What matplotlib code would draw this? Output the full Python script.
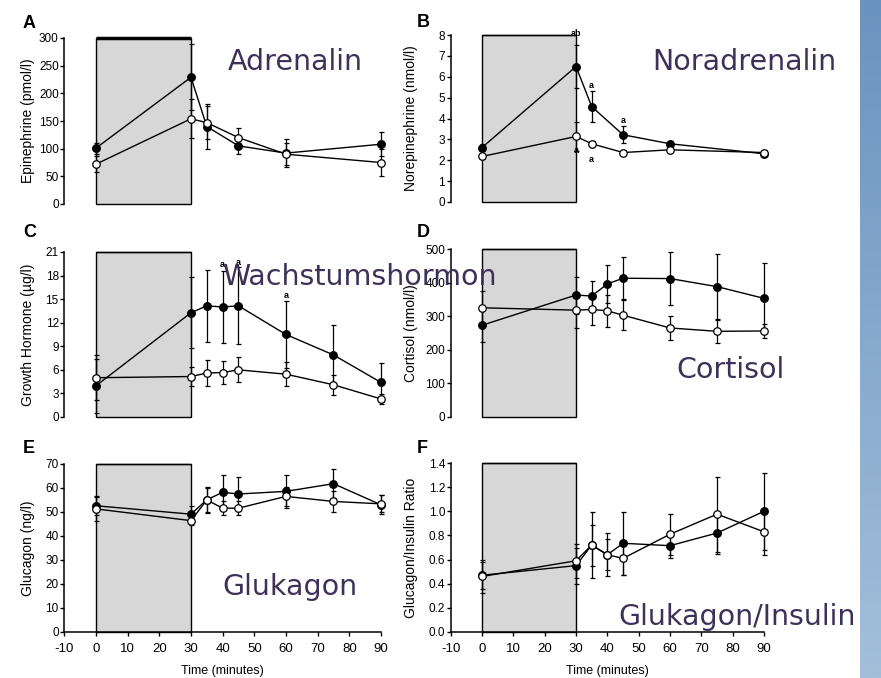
import numpy as np
import matplotlib.pyplot as plt
from matplotlib.patches import Rectangle
from matplotlib.colors import LinearSegmentedColormap

W, H = 881, 678

# ---- data (filled = black circles, open = white circles)
t_ad = [0, 30, 35, 45, 60, 90]
ad_fill = [101, 229, 140, 105, 92, 108]
ad_fill_err = [10, 60, 40, 15, 25, 22]
ad_open = [72, 154, 147, 120, 90, 75]
ad_open_err = [15, 35, 30, 18, 20, 24]

t_nor = [0, 30, 35, 45, 60, 90]
nor_fill = [2.61, 6.49, 4.57, 3.22, 2.79, 2.31]
nor_fill_err = [0.15, 1.05, 0.75, 0.4, 0.12, 0.12]
nor_open = [2.18, 3.14, 2.79, 2.37, 2.5, 2.37]
nor_open_err = [0.12, 0.7, 0.15, 0.1, 0.1, 0.1]

t_gh = [0, 30, 35, 40, 45, 60, 75, 90]
gh_fill = [3.97, 13.27, 14.15, 14.0, 14.15, 10.5, 7.9, 4.4]
gh_fill_err = [3.4, 4.5, 4.6, 4.6, 4.9, 4.3, 3.8, 2.5]
gh_open = [5.0, 5.15, 5.6, 5.66, 6.0, 5.45, 4.1, 2.3]
gh_open_err = [2.9, 1.2, 1.6, 1.5, 1.6, 1.5, 1.3, 0.6]

t_cort = [0, 30, 35, 40, 45, 60, 75, 90]
cort_fill = [273, 363, 360, 396, 413, 412, 388, 353]
cort_fill_err = [50, 55, 45, 56, 62, 78, 97, 104]
cort_open = [325, 318, 320, 316, 303, 265, 255, 256]
cort_open_err = [50, 52, 45, 48, 45, 37, 35, 22]

t_glu = [0, 30, 35, 40, 45, 60, 75, 90]
glu_fill = [52.6, 49.1, 55.1, 58.2, 57.5, 58.6, 61.8, 53.0]
glu_fill_err = [4, 3.5, 5.5, 7.3, 7, 7, 6, 4]
glu_open = [51.3, 46.4, 55.0, 51.6, 51.6, 56.5, 54.4, 53.4]
glu_open_err = [5, 2, 5, 3, 3, 4, 4.5, 3.5]

t_ratio = [0, 30, 35, 40, 45, 60, 75, 90]
ratio_fill = [0.47, 0.55, 0.72, 0.64, 0.735, 0.715, 0.82, 1.0]
ratio_fill_err = [0.11, 0.15, 0.27, 0.18, 0.26, 0.1, 0.17, 0.32]
ratio_open = [0.46, 0.59, 0.72, 0.64, 0.61, 0.81, 0.976, 0.83]
ratio_open_err = [0.14, 0.14, 0.17, 0.13, 0.14, 0.17, 0.31, 0.19]

ylabels = ['Epinephrine (pmol/l)', 'Norepinephrine (nmol/l)', 'Growth Hormone (\u00b5g/l)',
           'Cortisol (nmol/l)', 'Glucagon (ng/l)', 'Glucagon/Insulin Ratio']
letters = ['A', 'B', 'C', 'D', 'E', 'F']
names = ['Adrenalin', 'Noradrenalin', 'Wachstumshormon', 'Cortisol', 'Glukagon', 'Glukagon/Insulin']
x_ticks = [-10, 0, 10, 20, 30, 40, 50, 60, 70, 80, 90]

panels = [
    (t_ad, ad_fill, ad_fill_err, ad_open, ad_open_err, 300, 50),
    (t_nor, nor_fill, nor_fill_err, nor_open, nor_open_err, 8, 1),
    (t_gh, gh_fill, gh_fill_err, gh_open, gh_open_err, 21, 3),
    (t_cort, cort_fill, cort_fill_err, cort_open, cort_open_err, 500, 100),
    (t_glu, glu_fill, glu_fill_err, glu_open, glu_open_err, 70, 10),
    (t_ratio, ratio_fill, ratio_fill_err, ratio_open, ratio_open_err, 1.4, 0.2),
]

# significance marks (panel, x, y, text)
marks = [
    (1, 30, 8.05, 'ab'), (1, 35, 5.6, 'a'), (1, 45, 3.9, 'a'),
    (1, 30, 2.45, 'a'), (1, 35, 2.05, 'a'),
    (2, 40, 19.4, 'a'), (2, 45, 19.6, 'a'), (2, 60, 15.4, 'a'),
]

# pixel boxes: (left, right, top, bottom)
cols = [(64.3, 387.3), (450.7, 770.3)]
rows = [[(38, 204), (35, 202)], [(252, 417), (249, 417)], [(464, 632), (463, 632)]]
letter_pos = [(23, 28), (417, 27), (23, 237), (417, 237), (23, 453), (417, 453)]
name_pos = [(228, 70), (652, 70), (222, 285), (676, 378), (222, 595), (618, 625)]
ylab_x = [28, 411]

fig = plt.figure(figsize=(W / 100, H / 100), dpi=100)
fig.patch.set_facecolor('white')

# blue gradient bar on the right
bar = fig.add_axes([860 / W, 0, 21 / W, 1])
cmap = LinearSegmentedColormap.from_list('bar', ['#6b93bf', '#a3bfda'])
bar.imshow(np.linspace(0, 1, 256).reshape(-1, 1), aspect='auto', cmap=cmap)
bar.axis('off')

tick_font = dict(family=['Liberation Sans', 'DejaVu Sans'], size=8.5)

for i, (t, yf, ef, yo, eo, ymax, ystep) in enumerate(panels):
    r, c = divmod(i, 2)
    xl, xr = cols[c]
    yt, yb = rows[r][c]
    ax = fig.add_axes([xl / W, 1 - yb / H, (xr - xl) / W, (yb - yt) / H])
    ax.set_xlim(-10, 92)
    ax.set_ylim(0, ymax)

    lw_top = 2.5 if i == 0 else 1.0
    ax.add_patch(Rectangle((0, 0), 30, ymax, facecolor='#d7d7d7', edgecolor='black',
                           lw=1.0, zorder=1, clip_on=False))
    ax.plot([0, 30], [ymax, ymax], color='black', lw=lw_top, zorder=1.5,
            solid_capstyle='butt', clip_on=False)

    ax.errorbar(t, yf, yerr=ef, color='black', lw=1.0, elinewidth=0.9, capsize=1.8,
                capthick=0.9, marker='o', ms=5.4, mfc='black', mec='black', zorder=3,
                clip_on=False)
    ax.errorbar(t, yo, yerr=eo, color='black', lw=1.0, elinewidth=0.9, capsize=1.8,
                capthick=0.9, marker='o', ms=5.4, mfc='white', mec='black', mew=0.9,
                zorder=4, clip_on=False)

    yt_vals = np.arange(0, ymax + ystep / 2, ystep)
    ax.set_yticks(yt_vals)
    if i == 5:
        ax.set_yticklabels(['%.1f' % v for v in yt_vals], **tick_font)
    else:
        ax.set_yticklabels(['%g' % v for v in yt_vals], **tick_font)

    ax.spines['top'].set_visible(False)
    ax.spines['right'].set_visible(False)
    ax.spines['left'].set_linewidth(1.1)
    ax.tick_params(axis='y', direction='out', length=3, width=1, pad=1)
    ax.patch.set_alpha(0)

    if r == 2:
        ax.spines['bottom'].set_bounds(-10, 90)
        ax.spines['bottom'].set_linewidth(1.1)
        ax.set_xticks(x_ticks)
        ax.set_xticklabels([str(v) for v in x_ticks], family=['Liberation Sans', 'DejaVu Sans'],
                           size=9.5)
        ax.tick_params(axis='x', direction='out', length=3, width=1, pad=5)
        ax.set_xlabel('Time (minutes)', family=['Liberation Sans', 'DejaVu Sans'], size=9)
        ax.xaxis.set_label_coords(50 / 102, -0.195)
    else:
        ax.spines['bottom'].set_visible(False)
        ax.set_xticks([])

    fig.text(ylab_x[c] / W, 1 - (yt + yb) / 2 / H, ylabels[i], rotation=90,
             ha='center', va='center', family=['Liberation Sans', 'DejaVu Sans'], size=10)

    lx, ly = letter_pos[i]
    fig.text(lx / W, 1 - ly / H, letters[i], ha='left', va='baseline',
             family=['Liberation Sans', 'DejaVu Sans'], weight='bold', size=13)

for p, mx, my, s in marks:
    fig.axes[p + 1].text(mx, my, s, ha='center', va='center', size=6.5, weight='bold',
                         family=['Liberation Sans', 'DejaVu Sans'], zorder=5)

for (nx, ny), s in zip(name_pos, names):
    fig.text(nx / W, 1 - ny / H, s, ha='left', va='baseline', color='#3e3158',
             family=['DejaVu Sans'], size=20.5, zorder=10)

fig.savefig('out.png', dpi=100)
